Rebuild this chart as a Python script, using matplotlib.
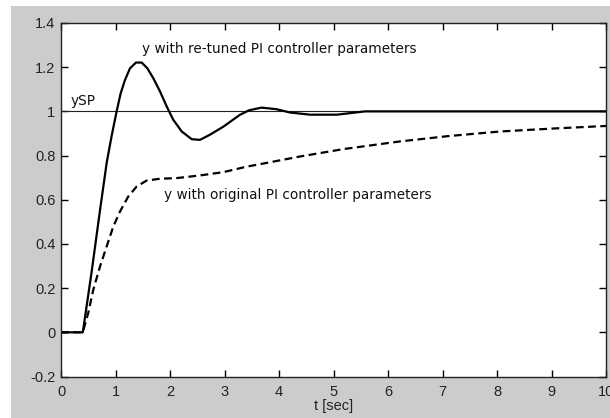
import matplotlib
matplotlib.use("Agg")
import matplotlib.pyplot as plt
from matplotlib.patches import Rectangle

# Data
t_tuned = [0, 0.4, 0.56, 0.72, 0.84, 0.93, 1.02, 1.095, 1.174, 1.266, 1.376, 1.48,
           1.584, 1.694, 1.817, 1.94, 2.06, 2.215, 2.40, 2.55, 2.73, 2.98, 3.28, 3.45,
           3.68, 3.95, 4.2, 4.57, 5.06, 5.58, 10]
y_tuned = [0, 0, 0.27, 0.56, 0.77, 0.89, 0.999, 1.082, 1.142, 1.195, 1.221, 1.221,
           1.195, 1.15, 1.09, 1.022, 0.962, 0.909, 0.874, 0.871, 0.894, 0.931, 0.984, 1.005,
           1.017, 1.01, 0.995, 0.985, 0.985, 1.0, 1.0]

t_orig = [0, 0.4, 0.50, 0.593, 0.716, 0.838, 0.96, 1.083, 1.235, 1.389, 1.572, 1.817,
          2.12, 2.55, 2.98, 3.41, 3.65, 4.39, 5.2, 6.22, 7.1, 8.06, 9.0, 10]
y_orig = [0, 0, 0.088, 0.193, 0.298, 0.389, 0.479, 0.547, 0.615, 0.66, 0.687, 0.695,
          0.698, 0.71, 0.725, 0.75, 0.761, 0.796, 0.83, 0.864, 0.888, 0.909, 0.922, 0.934]

t_sp = [0, 10]
y_sp = [1, 1]

xticks = list(range(0, 11))
yticks = [-0.2, 0, 0.2, 0.4, 0.6, 0.8, 1, 1.2, 1.4]
yticklabels = ["-0.2", "0", "0.2", "0.4", "0.6", "0.8", "1", "1.2", "1.4"]

plt.rcParams['font.family'] = ['Liberation Sans', 'DejaVu Sans']

W, H = 610, 418
fig = plt.figure(figsize=(W / 100, H / 100), dpi=100, facecolor='white')
fig.patches.append(Rectangle((11 / W, 0), 1 - 11 / W, 1 - 6 / H, transform=fig.transFigure,
                             facecolor='#cccccc', edgecolor='none', zorder=-10))

L, R, T, B = 61, 606, 23, 376.5
ax = fig.add_axes([L / W, 1 - B / H, (R - L) / W, (B - T) / H])
ax.set_facecolor('white')

ax.plot(t_sp, y_sp, color='#222222', lw=0.8)
ax.plot(t_tuned, y_tuned, color='black', lw=1.6, solid_joinstyle='round')
ax.plot(t_orig, y_orig, color='black', lw=1.6, ls=(0, (3.5, 2)))

ax.set_xlim(0, 10)
ax.set_ylim(-0.2, 1.4)
ax.set_xticks(xticks)
ax.set_yticks(yticks)
ax.set_yticklabels(yticklabels)
ax.tick_params(direction='in', length=5, width=1, top=True, right=True,
               labelsize=10.5, colors='black', pad=4, labelcolor='#222222')
ax.tick_params(axis='x', pad=6)
for s in ax.spines.values():
    s.set_linewidth(1.0)
    s.set_color('#222222')

ax.set_xlabel('t [sec]', fontsize=10.5, labelpad=0, color='#222222')

tfont = dict(fontsize=9.8, family=['DejaVu Sans'], color='#111111', va='center', ha='left')
ax.text(1.49, 1.282, 'y with re-tuned PI controller parameters', **tfont)
ax.text(0.17, 1.045, 'ySP', **tfont)
ax.text(1.89, 0.622, 'y with original PI controller parameters', **tfont)

fig.savefig('out.png', dpi=100, facecolor=fig.get_facecolor())
